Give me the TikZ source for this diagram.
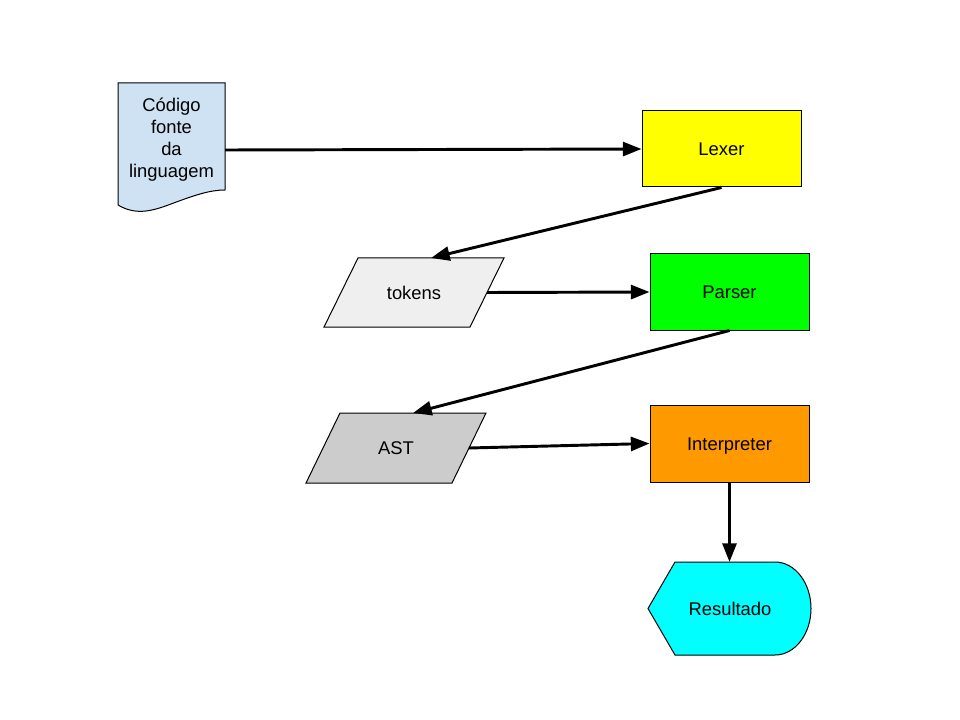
\documentclass[tikz,border=0pt]{standalone}
\usepackage{fontspec}
\setmainfont{Liberation Sans}
\usetikzlibrary{arrows.meta}
\definecolor{docblue}{HTML}{CFE2F3}
\definecolor{tokgray}{HTML}{EFEFEF}
\definecolor{astgray}{HTML}{CCCCCC}
\definecolor{lexyellow}{HTML}{FFFF00}
\definecolor{parsegreen}{HTML}{00FF00}
\definecolor{interporange}{HTML}{FF9900}
\definecolor{rescyan}{HTML}{00FFFF}
\begin{document}
\begin{tikzpicture}[x=0.75pt,y=-0.75pt,
  font=\fontsize{13.8pt}{16.5pt}\selectfont,
  box/.style={draw=black, line width=0.75pt, minimum width=119.25pt,
    minimum height=57pt, inner sep=0pt, text height=9.9pt, text depth=0pt},
  outline/.style={draw=black, line width=0.75pt},
  label/.style={inner sep=0pt, align=center},
  oneline/.style={label, text height=9.9pt, text depth=0pt},
  flow/.style={line width=2.2pt, -{Triangle[length=14pt,width=10.5pt]}}]
\fill[white] (0,0) rectangle (960,720);
\useasboundingbox (0,0) rectangle (960,720);

% source document with wavy bottom
\path[outline, fill=docblue] (118,83) -- (225,83) -- (225,190)
  .. controls (210,190) and (195,195) .. (171,204)
  .. controls (150,212) and (135,215) .. (118,205) -- cycle;
\node[label] (src) at (171.5,139.5) {Código\\fonte\\da\\linguagem};
\coordinate (src-e) at (225,150);

% processing stages
\node[box, fill=lexyellow] (lexer) at (721.5,149) {Lexer};
\node[box, fill=parsegreen] (parser) at (729.5,292) {Parser};
\node[box, fill=interporange, minimum height=57.75pt] (interp) at (729.5,443.5) {Interpreter};

% token stream (parallelogram)
\path[outline, fill=tokgray] (358,258) -- (504,258) -- (470,327) -- (324,327) -- cycle;
\node[oneline] (tokens) at (414,293) {tokens};
\coordinate (tok-n) at (431,258);
\coordinate (tok-e) at (487,292.5);

% syntax tree (parallelogram)
\path[outline, fill=astgray] (340,413) -- (486,413) -- (452,483) -- (306,483) -- cycle;
\node[oneline] (ast) at (396,448) {AST};
\coordinate (ast-n) at (413,413);
\coordinate (ast-e) at (469,448);

% result (display shape)
\path[outline, fill=rescyan] (648,608.5) -- (675,562) -- (775,562)
  .. controls (795,562) and (811,583) .. (811,608.5)
  .. controls (811,634) and (795,655) .. (775,655)
  -- (675,655) -- cycle;
\node[oneline] (res) at (730,608.5) {Resultado};
\coordinate (res-n) at (729.5,562);

% connectors
\draw[flow] (src-e) -- (lexer.west);
\draw[flow] (lexer.south) -- (tok-n);
\draw[flow] (tok-e) -- (parser.west);
\draw[flow] (parser.south) -- (ast-n);
\draw[flow] (ast-e) -- (interp.west);
\draw[flow] (interp.south) -- (res-n);
\end{tikzpicture}
\end{document}
